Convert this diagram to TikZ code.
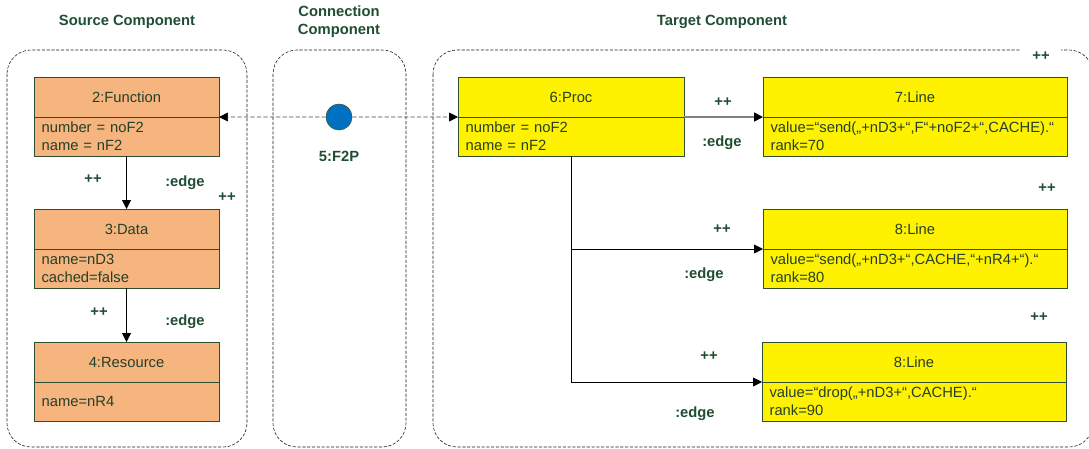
\documentclass[tikz,border=0pt]{standalone}
\usepackage{fontspec}
\setmainfont{Liberation Sans}
\usepackage{xcolor}
\usepackage{tikz}
\usetikzlibrary{arrows.meta,positioning}
\definecolor{srcc}{HTML}{F6B47E}
\definecolor{boxc}{HTML}{2F5030}
\definecolor{txtc}{HTML}{24402A}
\definecolor{lblc}{HTML}{1F4E33}
\definecolor{contc}{HTML}{1A1A1A}
\definecolor{bluec}{HTML}{0070C0}

\begin{document}
\begin{tikzpicture}[x=0.025cm, y=-0.025cm,
  font=\fontsize{10.5}{12.8}\selectfont,
  ttl/.style={rectangle, draw=boxc, minimum height=1cm, inner sep=0pt, outer sep=0pt, text=txtc},
  att/.style={rectangle, draw=boxc, minimum height=0.975cm, inner xsep=0.19cm, inner ysep=0pt,
              outer sep=0pt, align=left, text=txtc},
  src/.style={fill=srcc}, tgt/.style={fill=yellow},
  lbl/.style={font=\fontsize{10.5}{12.8}\selectfont\bfseries, text=lblc, inner sep=1pt},
  cont/.style={draw=contc, dash pattern=on 2.2pt off 1.2pt, rounded corners=0.6cm},
  arr/.style={-{Triangle[length=2.2mm,width=2.2mm]}, black},
  darr/.style={-{Triangle[length=2.2mm,width=2.2mm,color=black]}, draw=contc!80, dash pattern=on 3pt off 1.6pt}]
\useasboundingbox (0,0) rectangle (1089,448);
% component frames
\draw[cont] (7,50) rectangle (247,447);
\draw[cont] (273,50) rectangle (406,447);
\draw[cont] (433,50) rectangle (1093,447);
\node[lbl] (srcT) at (127,22) {Source Component};
\node[lbl, align=center] (conT) at (339,22) {Connection\\Component};
\node[lbl] (tgtT) at (722,22) {Target Component};
% source side
\node[ttl,src,minimum width=4.625cm,anchor=north west] (fun) at (34,77) {2:Function};
\node[att,src,text width=4.245cm,below=0pt of fun] (funA) {number = noF2\\name = nF2};
\node[ttl,src,minimum width=4.625cm,anchor=north west] (dat) at (34,209) {3:Data};
\node[att,src,text width=4.245cm,below=0pt of dat] (datA) {name=nD3\\cached=false};
\node[ttl,src,minimum width=4.625cm,anchor=north west] (res) at (34,342) {4:Resource};
\node[att,src,text width=4.245cm,below=0pt of res] (resA) {name=nR4};
\draw[arr] (funA.south) -- (dat.north);
\draw[arr] (datA.south) -- (res.north);
\node[lbl] (pp1) at (93,179) {++};
\node[lbl] (ed1) at (185,183) {:edge};
\node[lbl] (pp2) at (227,197) {++};
\node[lbl] (pp3) at (99,312) {++};
\node[lbl] (ed2) at (185,322) {:edge};
% connection
\node[circle, fill=bluec, draw=boxc, minimum size=0.65cm, inner sep=0pt] (f2p) at (339,117) {};
\node[lbl] (f2pT) at (339,156) {5:F2P};
% target side
\node[ttl,tgt,minimum width=5.65cm,anchor=north west] (proc) at (458,77) {6:Proc};
\node[att,tgt,text width=5.27cm,below=0pt of proc] (procA) {number = noF2\\name = nF2};
\node[ttl,tgt,minimum width=7.6cm,anchor=north west] (ln1) at (763,77) {7:Line};
\node[att,tgt,text width=7.22cm,below=0pt of ln1] (ln1A) {value=“send(„+nD3+“,F“+noF2+“,CACHE).“\\rank=70};
\node[ttl,tgt,minimum width=7.6cm,anchor=north west] (ln2) at (763,209) {8:Line};
\node[att,tgt,text width=7.22cm,below=0pt of ln2] (ln2A) {value=“send(„+nD3+“,CACHE,“+nR4+“).“\\rank=80};
\node[ttl,tgt,minimum width=7.6cm,anchor=north west] (ln3) at (762,342) {8:Line};
\node[att,tgt,text width=7.22cm,below=0pt of ln3] (ln3A) {value=“drop(„+nD3+“,CACHE).“\\rank=90};
\draw[darr] (f2p) -- (fun.south east);
\draw[darr] (f2p) -- (proc.south west);
\draw[-{Triangle[length=2.2mm,width=2.2mm,color=black]}, draw=gray, line width=1.2pt]
  (proc.south east) -- (ln1.south west);
\draw[arr] (procA.south) |- (ln2.south west);
\draw[arr] (procA.south) |- (ln3.south west);
\node[lbl] (pp4) at (723,102) {++};
\node[lbl] (ed3) at (722,143) {:edge};
\node[lbl, fill=white, minimum width=1cm, minimum height=0.45cm] (pp5) at (1041,56) {++};
\node[lbl] (pp6) at (1047,188) {++};
\node[lbl] (pp7) at (722,229) {++};
\node[lbl] (ed4) at (704,275) {:edge};
\node[lbl] (pp8) at (1039,317) {++};
\node[lbl] (pp9) at (709,356) {++};
\node[lbl] (ed5) at (695,414) {:edge};
\end{tikzpicture}
\end{document}
